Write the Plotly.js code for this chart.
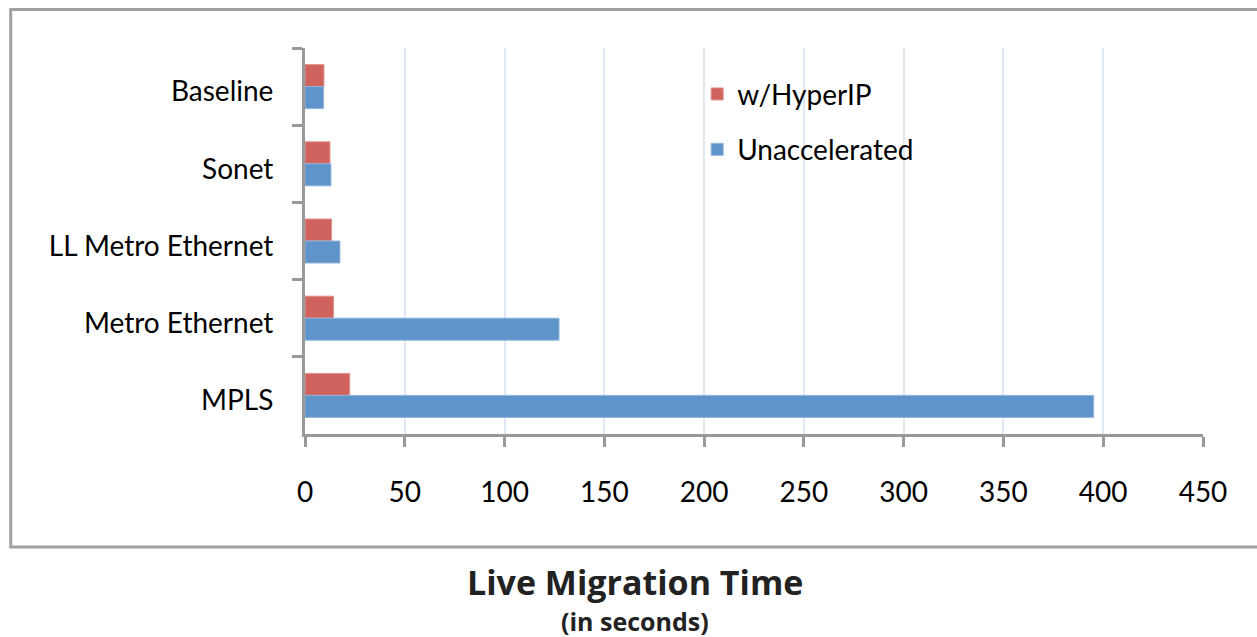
<!DOCTYPE html>
<html>
<head>
<meta charset="utf-8">
<script src="https://cdn.plot.ly/plotly-3.0.1.min.js"></script>
<style>html,body{margin:0;padding:0;background:#fff;}#chart{width:1257px;height:637px;}</style>
</head>
<body>
<div id="chart"></div>
<script>
const categories = ['Baseline', 'Sonet', 'LL Metro Ethernet', 'Metro Ethernet', 'MPLS'];
const hyperIP = [9.5, 12.5, 13.3, 14.3, 22.4];
const unaccelerated = [9.3, 13, 17.5, 127.3, 395.2];
const xTicks = [0, 50, 100, 150, 200, 250, 300, 350, 400, 450];

const FONT = 'Lato, "Noto Sans", sans-serif';
const TITLE_FONT = '"Open Sans", "Noto Sans", sans-serif';

const traces = [
  {type: 'bar', orientation: 'h', name: 'w/HyperIP', y: categories, x: hyperIP,
   legendgroup: 'a', marker: {color: '#d0635e', line: {color: '#e0918d', width: 1}}},
  {type: 'bar', orientation: 'h', name: 'Unaccelerated', y: categories, x: unaccelerated,
   legendgroup: 'b', marker: {color: '#5e94c9', line: {color: '#8fb4dc', width: 1}}}
];

const layout = {
  width: 1257, height: 637,
  margin: {l: 304.5, r: 53.7, t: 48, b: 203},
  paper_bgcolor: '#ffffff', plot_bgcolor: '#ffffff',
  barmode: 'group', bargap: 0.43, bargroupgap: 0,
  font: {family: FONT, color: '#000', size: 28},
  showlegend: true,
  legend: {x: 0.4367, y: 0.945, xanchor: 'left', yanchor: 'top', bgcolor: 'rgba(0,0,0,0)',
           font: {family: FONT, size: 28, color: '#000'}, traceorder: 'grouped', tracegroupgap: 16},
  xaxis: {range: [0, 450], tickvals: xTicks, ticktext: xTicks.map(String),
          showgrid: true, gridcolor: '#dfe8f3', gridwidth: 2,
          zeroline: false, showline: true, linecolor: '#999999', linewidth: 3,
          ticks: 'outside', ticklen: 10, tickwidth: 3, tickcolor: '#999999',
          ticklabelstandoff: 21, tickfont: {family: FONT, size: 28, color: '#000'},
          fixedrange: true},
  yaxis: {type: 'category', autorange: 'reversed', categoryorder: 'array', categoryarray: categories,
          showgrid: false, zeroline: false, showline: true, linecolor: '#999999', linewidth: 3,
          ticks: 'outside', tickson: 'boundaries', ticklen: 10, tickwidth: 3, tickcolor: '#999999',
          ticklabelstandoff: 23, ticklabelshift: -5, tickfont: {family: FONT, size: 28, color: '#000'},
          fixedrange: true},
  shapes: [
    {type: 'rect', xref: 'paper', yref: 'paper', x0: -0.3277, x1: 1.07, y0: -0.2927, y1: 1.1,
     line: {color: '#a0a0a0', width: 3}, fillcolor: 'rgba(0,0,0,0)', layer: 'below'}
  ],
  annotations: [
    {text: '<b>Live Migration Time</b>', xref: 'paper', yref: 'paper', x: 0.3678, y: -0.384,
     xanchor: 'center', yanchor: 'middle', showarrow: false,
     font: {family: TITLE_FONT, size: 34, color: '#222'}},
    {text: '<b>(in seconds)</b>', xref: 'paper', yref: 'paper', x: 0.3678, y: -0.484,
     xanchor: 'center', yanchor: 'middle', showarrow: false,
     font: {family: TITLE_FONT, size: 25, color: '#222'}}
  ]
};

Plotly.newPlot('chart', traces, layout, {displayModeBar: false, staticPlot: true});
</script>
</body>
</html>
